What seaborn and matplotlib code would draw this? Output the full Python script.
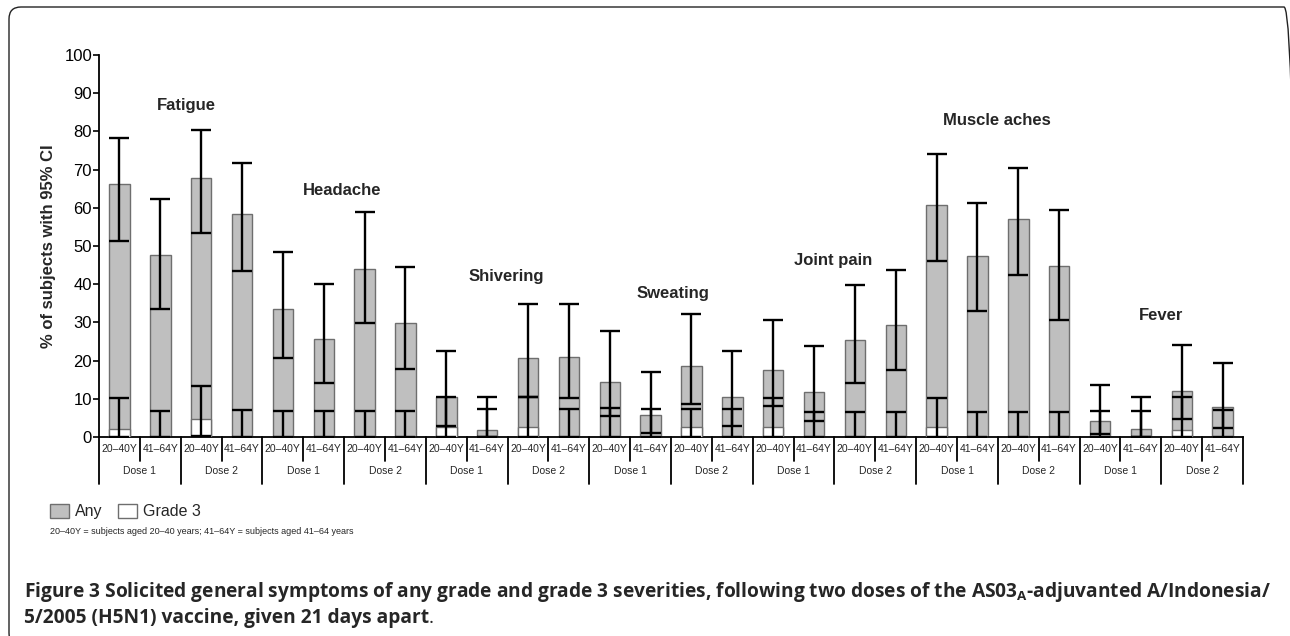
import numpy as np
import pandas as pd
import matplotlib
matplotlib.use("Agg")
import matplotlib.pyplot as plt
import matplotlib.transforms as mtransforms
from matplotlib.patches import FancyBboxPatch, Patch
import seaborn as sns

# Donnees
symptoms = ["Fatigue", "Headache", "Shivering", "Sweating", "Joint pain", "Muscle aches", "Fever"]
doses = ["Dose 1", "Dose 2"]
ages = ["20–40Y", "41–64Y"]

any_pct = [66.1, 47.6, 67.7, 58.3, 33.6, 25.6, 44.0, 29.9, 10.4, 1.8, 20.6, 20.9, 14.5, 5.8,
           18.6, 10.5, 17.5, 11.8, 25.5, 29.3, 60.8, 47.5, 57.1, 44.8, 4.3, 2.2, 12.0, 7.9]
any_lo = [51.2, 33.4, 53.3, 43.4, 20.7, 14.1, 29.8, 17.8, 2.9, 0.05, 10.6, 10.3, 5.4, 1.0,
          8.7, 3.0, 8.1, 4.3, 14.2, 17.5, 46.1, 33.0, 42.5, 30.7, 0.7, 0.05, 4.7, 2.4]
any_hi = [78.4, 62.3, 80.3, 71.6, 48.4, 40.0, 58.8, 44.4, 22.5, 10.4, 34.9, 34.9, 27.8, 16.9,
          32.2, 22.6, 30.5, 23.7, 39.9, 43.7, 74.1, 61.3, 70.4, 59.4, 13.6, 10.4, 24.1, 19.3]
g3_pct = [2.2, 0, 4.6, 0, 0, 0, 0, 0, 2.5, 0, 2.5, 0, 0, 0,
          2.5, 0, 2.5, 0, 0, 0, 2.5, 0, 0, 0, 0, 0, 1.9, 0]
g3_lo = [0.05, 0, 0.3, 0, 0, 0, 0, 0, 0.05, 0, 0.05, 0, 0, 0,
         0.05, 0, 0.05, 0, 0, 0, 0.05, 0, 0, 0, 0, 0, 0.05, 0]
g3_hi = [10.1, 6.8, 13.3, 7.0, 6.8, 6.9, 6.8, 6.8, 10.4, 7.4, 10.6, 7.4, 7.5, 7.3,
         7.4, 7.3, 10.1, 6.5, 6.5, 6.6, 10.3, 6.6, 6.6, 6.6, 6.9, 6.9, 10.6, 7.0]

# position des noms de symptomes (index de barre, %)
label_x = [1.65, 5.45, 9.48, 13.55, 17.46, 21.48, 25.5]
label_y = [86.9, 64.4, 42.1, 37.6, 46.3, 82.8, 31.7]

W, H = 1290, 636

sns.set_style("ticks")
plt.rcParams["font.family"] = ["Liberation Sans", "DejaVu Sans"]
plt.rcParams["mathtext.fontset"] = "custom"
plt.rcParams["mathtext.bf"] = "Open Sans:bold"
plt.rcParams["mathtext.rm"] = "Open Sans"

rows = []
for s in symptoms:
    for d in doses:
        for a in ages:
            rows.append((s, d, a))
df = pd.DataFrame(rows, columns=["symptom", "dose", "age"])
df["bar"] = df["symptom"] + " " + df["dose"] + " " + df["age"]
df["any"] = any_pct
df["g3"] = g3_pct

fig = plt.figure(figsize=(W / 100, H / 100), dpi=100)
ax = fig.add_axes([99 / W, (H - 437) / H, 1144 / W, 382 / H])

sns.barplot(data=df, x="bar", y="any", color="#bfbfbf", edgecolor="#6e6e6e",
            linewidth=1, width=0.5, errorbar=None, saturation=1, ax=ax, zorder=2)
sns.barplot(data=df, x="bar", y="g3", color="white", edgecolor="#6e6e6e",
            linewidth=1, width=0.5, errorbar=None, saturation=1, ax=ax, zorder=3)

xs = np.arange(len(df))
a = np.array(any_pct)
ax.errorbar(xs, a, yerr=[a - np.array(any_lo), np.array(any_hi) - a], fmt="none",
            ecolor="black", elinewidth=1.7, capsize=7, capthick=1.7, zorder=4)
g = np.array(g3_pct)
ax.errorbar(xs, g, yerr=[g - np.array(g3_lo), np.array(g3_hi) - g], fmt="none",
            ecolor="black", elinewidth=1.7, capsize=7, capthick=1.7, zorder=4)

ax.set_xlim(-0.5, len(df) - 0.5)
ax.set_ylim(0, 100)
ax.set_yticks(range(0, 101, 10))
ax.tick_params(axis="y", labelsize=12, length=4.5, width=1.2, pad=0.5, colors="black")
ax.set_xticks([])
ax.set_xlabel("")
ax.set_ylabel("% of subjects with 95% CI", fontsize=12, fontweight="bold", labelpad=6)
sns.despine(ax=ax)
for side in ["left", "bottom"]:
    ax.spines[side].set_linewidth(1.3)
    ax.spines[side].set_color("black")

for lx, ly, name in zip(label_x, label_y, symptoms):
    ax.text(lx, ly, name, ha="center", va="center", fontsize=12, fontweight="bold")

# tableau des categories sous l'axe
trans = ax.get_xaxis_transform()
ax_h = 382
short_y = -(461 - 437) / ax_h
long_y = -(484 - 437) / ax_h
for k in range(len(df) + 1):
    bottom = long_y if k % 2 == 0 else short_y
    ax.plot([k - 0.5, k - 0.5], [0, bottom], color="black", lw=1.3,
            transform=trans, clip_on=False)
for i, row in df.iterrows():
    ax.text(i, -(449 - 437) / ax_h, row["age"], ha="center", va="center",
            fontsize=7.5, transform=trans)
for j in range(len(df) // 2):
    ax.text(2 * j + 0.5, -(471 - 437) / ax_h, doses[j % 2], ha="center", va="center",
            fontsize=7.5, transform=trans)

# legende
handles = [Patch(facecolor="#bfbfbf", edgecolor="#6e6e6e", label="Any"),
           Patch(facecolor="white", edgecolor="#6e6e6e", label="Grade 3")]
fig.legend(handles=handles, loc="upper left", bbox_to_anchor=(50 / W, 1 - 504 / H),
           ncol=2, frameon=False, fontsize=11.5, handlelength=1.2, handleheight=0.95,
           handletextpad=0.35, columnspacing=1.0, borderpad=0, borderaxespad=0)

fig.text(50 / W, 1 - 532 / H,
         "20–40Y = subjects aged 20–40 years; 41–64Y = subjects aged 41–64 years",
         fontsize=6.5, va="center", ha="left")

# legende de la figure
cap_font = ["Open Sans", "DejaVu Sans"]
cap_size = 13.8
fig.text(24 / W, 1 - 597 / H,
         "Figure 3 Solicited general symptoms of any grade and grade 3 severities, "
         "following two doses of the AS03$_{\\mathbf{A}}$-adjuvanted A/Indonesia/",
         fontsize=cap_size, fontweight="bold", family=cap_font, va="baseline", ha="left")
line2 = fig.text(24 / W, 1 - 623 / H, "5/2005 (H5N1) vaccine, given 21 days apart",
                 fontsize=cap_size, fontweight="bold", family=cap_font,
                 va="baseline", ha="left")
fig.canvas.draw()
bb = line2.get_window_extent()
fig.text(bb.x1 / W, 1 - 623 / H, ".", fontsize=cap_size, family=cap_font,
         va="baseline", ha="left")

# cadre arrondi
frame = FancyBboxPatch((9, -9), 1287, 9 + (H - 7), boxstyle="round,pad=0,rounding_size=12",
                       transform=mtransforms.IdentityTransform(), facecolor="none",
                       edgecolor="#222222", linewidth=1.0)
fig.patches.append(frame)

fig.savefig("out.png", dpi=100)
